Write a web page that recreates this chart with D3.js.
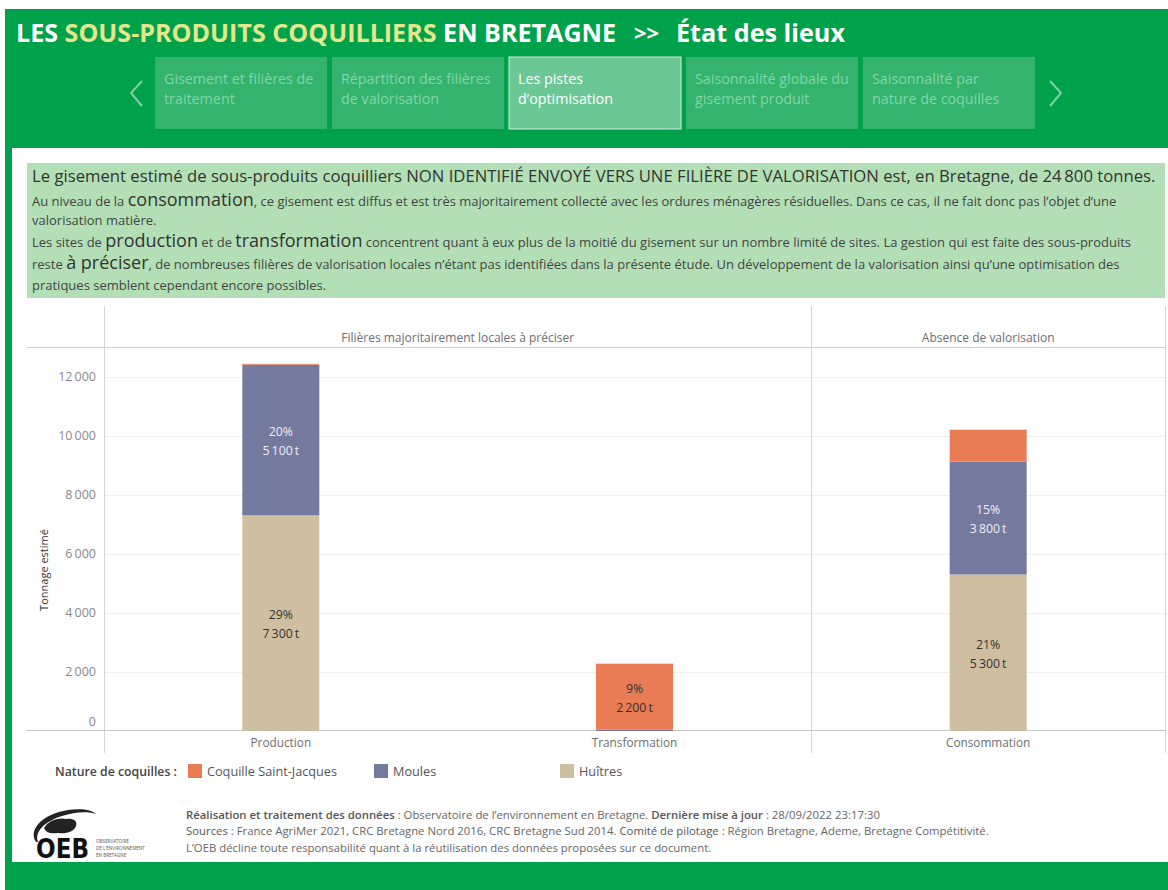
<!DOCTYPE html>
<html>
<head>
<meta charset="utf-8">
<script src="https://cdn.jsdelivr.net/npm/d3@7"></script>
<style>
  html, body { margin: 0; padding: 0; background: #fff; }
  svg { display: block; font-family: "Open Sans", sans-serif; }
</style>
</head>
<body>
<svg id="chart" width="1168" height="890"></svg>
<script>
// categories and panes
const categories = ['Production', 'Transformation', 'Consommation'];
const paneTitles = ['Filières majoritairement locales à préciser', 'Absence de valorisation'];
const species = ['Coquille Saint-Jacques', 'Moules', 'Huîtres'];
const speciesColors = ['#e97b55', '#747a9f', '#cdbf9f'];
// estimated tonnage per category
const csjValues = [30, 2240, 1080];
const moulesValues = [5100, 40, 3820];
const huitresValues = [7300, 0, 5300];
const yTicks = [0, 2000, 4000, 6000, 8000, 10000, 12000];
const navTabs = [
  ['Gisement et filières de', 'traitement'],
  ['Répartition des filières', 'de valorisation'],
  ['Les pistes', 'd\u2019optimisation'],
  ['Saisonnalité globale du', 'gisement produit'],
  ['Saisonnalité par', 'nature de coquilles']
];
const activeTab = 2;

(() => {
  let svg, green, x, y, rows, total, stacked, g, nav, box, lines, legend, foot;

  svg = d3.select('#chart');
  green = '#00a14b';

  // frame
  svg.append('rect').attr('x', 5).attr('y', 9).attr('width', 1163).attr('height', 881).attr('fill', green);
  svg.append('rect').attr('x', 12).attr('y', 148).attr('width', 1156).attr('height', 714).attr('fill', '#fff');

  // title
  let title = svg.append('g').style('font-weight', 700).attr('fill', '#fff');
  let t1 = title.append('text').attr('x', 16).attr('y', 42).style('font-size', '25.1px');
  t1.append('tspan').text('LES ');
  t1.append('tspan').attr('fill', '#e4e78c').text('SOUS-PRODUITS COQUILLIERS');
  t1.append('tspan').text(' EN BRETAGNE');
  title.append('text').attr('x', 634).attr('y', 41).style('font-size', '22px').text('>>');
  title.append('text').attr('x', 676).attr('y', 42).style('font-size', '25.2px').text('État des lieux');

  // navigation tabs
  nav = svg.append('g');
  nav.selectAll('rect.tab').data(navTabs).join('rect')
    .attr('class', 'tab')
    .attr('x', (d, i) => 155 + i * 177)
    .attr('y', 57)
    .attr('width', 172)
    .attr('height', 72)
    .attr('fill', (d, i) => i === activeTab ? '#6cc796' : '#34b36f')
    .attr('stroke', (d, i) => i === activeTab ? '#d6efe0' : 'none');
  nav.selectAll('text.tab').data(navTabs).join('text')
    .attr('class', 'tab')
    .attr('x', (d, i) => 164 + i * 177)
    .attr('y', 84)
    .attr('fill', (d, i) => i === activeTab ? '#fff' : '#84d4a9')
    .style('font-size', '14.3px')
    .each(function(d) {
      d3.select(this).selectAll('tspan').data(d).join('tspan')
        .attr('x', d3.select(this).attr('x'))
        .attr('dy', (t, j) => j ? 20 : 0)
        .text(t => t);
    });
  nav.append('path').attr('d', 'M142,81 L131,93 L142,106')
    .attr('fill', 'none').attr('stroke', '#7fd0a5').attr('stroke-width', 2);
  nav.append('path').attr('d', 'M1050,81 L1061,93 L1050,106')
    .attr('fill', 'none').attr('stroke', '#7fd0a5').attr('stroke-width', 2);

  // text box
  box = svg.append('g');
  box.append('rect').attr('x', 27).attr('y', 163).attr('width', 1138).attr('height', 135).attr('fill', '#b3dfb7');
  box.append('text').attr('x', 32).attr('y', 182).attr('fill', '#333')
    .style('font-size', '16.7px')
    .text('Le gisement estimé de sous-produits coquilliers NON IDENTIFIÉ ENVOYÉ VERS UNE FILIÈRE DE VALORISATION est, en Bretagne, de 24\u2009800 tonnes.');
  lines = [
    [206, [['Au niveau de la ', 0], ['consommation', 1], [', ce gisement est diffus et est très majoritairement collecté avec les ordures ménagères résiduelles. Dans ce cas, il ne fait donc pas l\u2019objet d\u2019une', 0]]],
    [225, [['valorisation matière.', 0]]],
    [247, [['Les sites de ', 0], ['production', 1], [' et de ', 0], ['transformation', 1], [' concentrent quant à eux plus de la moitié du gisement sur un nombre limité de sites. La gestion qui est faite des sous-produits', 0]]],
    [269, [['reste ', 0], ['à préciser', 1], [', de nombreuses filières de valorisation locales n\u2019étant pas identifiées dans la présente étude. Un développement de la valorisation ainsi qu\u2019une optimisation des', 0]]],
    [290, [['pratiques semblent cependant encore possibles.', 0]]]
  ];
  lines.forEach(l => {
    let t = box.append('text').attr('x', 32).attr('y', l[0]).attr('fill', '#444').style('font-size', '13px');
    l[1].forEach(p => {
      t.append('tspan').style('font-size', p[1] ? '18px' : null).attr('fill', p[1] ? '#333' : null).text(p[0]);
    });
  });

  // chart
  x = d3.scaleBand().domain(categories).range([104, 1165]);
  y = d3.scaleLinear().domain([0, 13000]).range([731, 347]);

  rows = categories.map((c, i) => ({
    category: c,
    'Coquille Saint-Jacques': csjValues[i],
    'Moules': moulesValues[i],
    'Huîtres': huitresValues[i]
  }));
  total = d3.sum(csjValues) + d3.sum(moulesValues) + d3.sum(huitresValues);
  stacked = d3.stack().keys(['Huîtres', 'Moules', 'Coquille Saint-Jacques'])(rows);

  g = svg.append('g');
  // gridlines
  g.selectAll('line.grid').data(yTicks.slice(1)).join('line')
    .attr('x1', 104).attr('x2', 1165)
    .attr('y1', d => Math.round(y(d)) + 0.5).attr('y2', d => Math.round(y(d)) + 0.5)
    .attr('stroke', '#f0f0f0');

  // pane dividers
  let paneEdges = [104, x(categories[2]), 1165];
  g.selectAll('line.vdiv').data(paneEdges).join('line')
    .attr('x1', d => Math.round(d) + 0.5).attr('x2', d => Math.round(d) + 0.5)
    .attr('y1', 306).attr('y2', 753)
    .attr('stroke', '#d4d4d4');
  g.append('line').attr('x1', 27).attr('x2', 1165).attr('y1', 347.5).attr('y2', 347.5).attr('stroke', '#d0d0d0');
  g.append('line').attr('x1', 27).attr('x2', 1165).attr('y1', 730.5).attr('y2', 730.5).attr('stroke', '#c8c8c8');

  // pane titles
  g.selectAll('text.pane').data(paneTitles).join('text')
    .attr('x', (d, i) => (paneEdges[i] + paneEdges[i + 1]) / 2)
    .attr('y', 342)
    .attr('text-anchor', 'middle')
    .attr('fill', '#6e6e6e')
    .style('font-size', '12px')
    .text(d => d);

  // y axis labels
  g.selectAll('text.ytick').data(yTicks).join('text')
    .attr('x', 96)
    .attr('y', d => Math.min(y(d) + 4, 726))
    .attr('text-anchor', 'end')
    .attr('fill', '#8a8a8a')
    .style('font-size', '12.5px')
    .text(d => d3.format(',')(d).replace(',', '\u2009'));
  g.append('text')
    .attr('transform', 'translate(48,570) rotate(-90)')
    .attr('text-anchor', 'middle')
    .attr('fill', '#333')
    .style('font-size', '11px')
    .text('Tonnage estimé');

  // bars
  let barW = 77;
  let layers = g.selectAll('g.layer').data(stacked).join('g')
    .attr('fill', d => speciesColors[species.indexOf(d.key)]);
  layers.selectAll('rect').data(d => d.map(v => ({ key: d.key, v: v }))).join('rect')
    .attr('x', d => x(d.v.data.category) + x.bandwidth() / 2 - barW / 2)
    .attr('width', barW)
    .attr('y', d => y(d.v[1]))
    .attr('height', d => Math.max(0, y(d.v[0]) - y(d.v[1])));

  // segment labels
  let labelData = [];
  stacked.forEach(s => s.forEach(v => {
    let val = v[1] - v[0];
    if (val > 2000) {
      labelData.push({ key: s.key, v: v, val: val });
    }
  }));
  let lab = g.selectAll('text.seg').data(labelData).join('text')
    .attr('text-anchor', 'middle')
    .attr('fill', d => d.key === 'Moules' ? '#eceef5' : '#333')
    .style('font-size', '12.3px')
    .attr('transform', d => 'translate(' + (x(d.v.data.category) + x.bandwidth() / 2) + ',' + ((y(d.v[0]) + y(d.v[1])) / 2) + ')');
  lab.append('tspan').attr('x', 0).attr('y', -4).text(d => Math.round(d.val / total * 100) + '%');
  lab.append('tspan').attr('x', 0).attr('y', 15).text(d => d3.format(',')(Math.round(d.val / 100) * 100).replace(',', '\u2009') + '\u2009t');

  // category labels
  g.selectAll('text.cat').data(categories).join('text')
    .attr('x', d => x(d) + x.bandwidth() / 2)
    .attr('y', 747)
    .attr('text-anchor', 'middle')
    .attr('fill', '#6e6e6e')
    .style('font-size', '11.8px')
    .text(d => d);

  // legend
  legend = svg.append('g');
  legend.append('text').attr('x', 55).attr('y', 776).attr('fill', '#444')
    .style('font-size', '12.3px').style('font-weight', 600).text('Nature de coquilles :');
  let li = legend.selectAll('g.item').data(species).join('g')
    .attr('transform', (d, i) => 'translate(' + (188 + i * 186) + ',764)');
  li.append('rect').attr('width', 14).attr('height', 14).attr('fill', (d, i) => speciesColors[i]);
  li.append('text').attr('x', 19).attr('y', 12).attr('fill', '#555').style('font-size', '12.7px').text(d => d);

  // footer
  foot = svg.append('g').style('font-size', '11.35px').attr('fill', '#666');
  let f1 = foot.append('text').attr('x', 186).attr('y', 819);
  f1.append('tspan').style('font-weight', 600).attr('fill', '#555').text('Réalisation et traitement des données');
  f1.append('tspan').text(' : Observatoire de l\u2019environnement en Bretagne. ');
  f1.append('tspan').style('font-weight', 600).attr('fill', '#555').text('Dernière mise à jour');
  f1.append('tspan').text(' :  28/09/2022 23:17:30');
  let f2 = foot.append('text').attr('x', 186).attr('y', 835);
  f2.append('tspan').attr('fill', '#555').text('Sources');
  f2.append('tspan').text(' : France AgriMer 2021, CRC Bretagne Nord 2016, CRC Bretagne Sud 2014. ');
  f2.append('tspan').attr('fill', '#555').text('Comité de pilotage');
  f2.append('tspan').text(' : Région Bretagne, Ademe, Bretagne Compétitivité.');
  foot.append('text').attr('x', 186).attr('y', 852).text('L\u2019OEB décline toute responsabilité quant à la réutilisation des données proposées sur ce document.');

  // OEB logo
  let logo = svg.append('g').attr('transform', 'translate(30,806)');
  logo.append('path')
    .attr('d', 'M6,36 C-2,24 12,8 38,4 C52,2 62,4 66,8 C58,5 44,6 32,10 C16,15 4,25 8,36 Z')
    .attr('fill', '#222');
  logo.append('path')
    .attr('d', 'M14,22 C18,15 28,11 36,13 C42,12 48,14 46,20 C44,26 36,28 28,27 C22,28 16,27 14,22 Z')
    .attr('fill', '#222');
  logo.append('text').attr('x', 6).attr('y', 52)
    .style('font-family', '"DejaVu Sans", sans-serif').style('font-size', '26px').style('font-weight', 700)
    .attr('fill', '#111').attr('textLength', 53).attr('lengthAdjust', 'spacingAndGlyphs').text('OEB');
  logo.append('g').style('font-size', '4.6px').attr('fill', '#555')
    .selectAll('text').data(['OBSERVATOIRE', 'DE L\u2019ENVIRONNEMENT', 'EN BRETAGNE']).join('text')
    .attr('x', 66).attr('y', (d, i) => 37 + i * 7).text(d => d);
})();
</script>
</body>
</html>
